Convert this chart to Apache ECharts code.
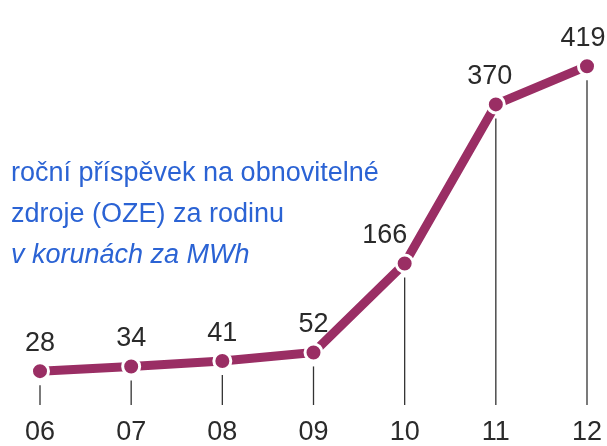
<!DOCTYPE html>
<html><head><meta charset="utf-8">
<script src="https://cdn.jsdelivr.net/npm/echarts@6/dist/echarts.min.js"></script>
<style>html,body{margin:0;padding:0;background:#fff}#c{width:607px;height:446px}</style>
</head><body><div id="c"></div>
<script>
const years = ['06','07','08','09','10','11','12'];
const values = [28, 34, 41, 52, 166, 370, 419];
const titleLines = ['roční příspěvek na obnovitelné', 'zdroje (OZE) za rodinu'];
const unitLine = 'v korunách za MWh';

const purple = '#9a2e64';
const numFont = '"Liberation Sans Narrow", "Liberation Sans", Arial, sans-serif';
const chart = echarts.init(document.getElementById('c'), null, {renderer: 'canvas'});
chart.setOption({
  animation: false,
  backgroundColor: '#fff',
  grid: {left: 40, right: 20, top: 3, bottom: 46, containLabel: false},
  xAxis: {
    type: 'category', data: years, boundaryGap: false,
    axisLine: {show: false}, axisTick: {show: false},
    axisLabel: {color: '#2a2a2a', fontFamily: numFont, fontSize: 27, margin: 26}
  },
  yAxis: {type: 'value', min: 0, max: 500, show: false, splitLine: {show: false}},
  graphic: [{
    type: 'text', left: 11, top: 153,
    style: {
      text: titleLines.join('\n') + '\n{i|' + unitLine + '}',
      fill: '#2b63d4', font: '27px "Liberation Sans", Arial, sans-serif', lineHeight: 41,
      rich: {i: {fontStyle: 'italic', fontSize: 27, fontFamily: '"Liberation Sans", Arial, sans-serif', fill: '#2b63d4', lineHeight: 41}}
    }
  }],
  series: [{
    type: 'custom', z: 1, silent: true,
    data: values.map((v, i) => [i, v]),
    renderItem: function (params, api) {
      const p = api.coord([api.value(0), api.value(1)]);
      const b = api.coord([api.value(0), 0]);
      return {type: 'line', shape: {x1: p[0], y1: p[1] + 14, x2: p[0], y2: b[1] + 12},
        style: {stroke: '#333', lineWidth: 1.3}};
    }
  }, {
    type: 'line', z: 3,
    data: values.map((v, i) => i === 4 ? {value: v, label: {offset: [-20, 0]}} : (i === 5 ? {value: v, label: {offset: [-6, 0]}} : (i === 6 ? {value: v, label: {offset: [-4, 0]}} : v))),
    symbol: 'circle', symbolSize: 17,
    lineStyle: {color: purple, width: 9},
    itemStyle: {color: purple, borderColor: '#fff', borderWidth: 3},
    label: {show: true, position: 'top', distance: 4, color: '#2a2a2a', fontFamily: numFont, fontSize: 27}
  }]
});
</script></body></html>
